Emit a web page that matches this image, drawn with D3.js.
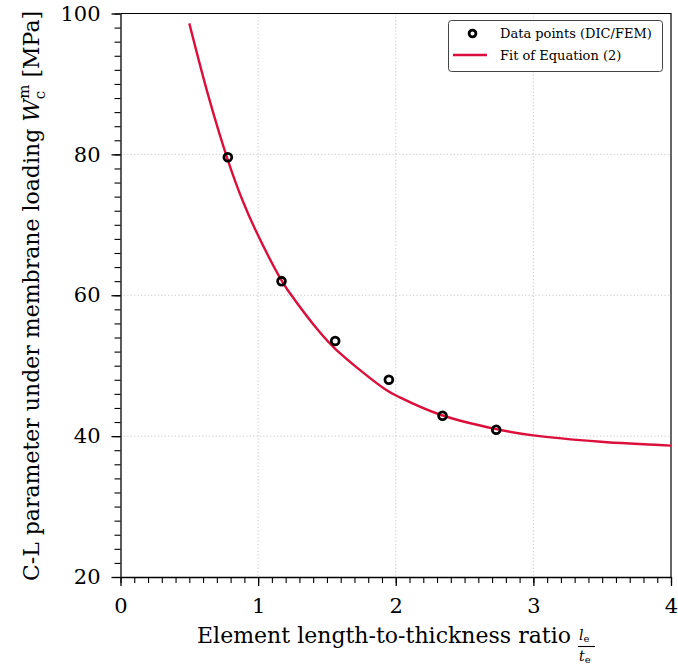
<!DOCTYPE html>
<html>
<head>
<meta charset="utf-8">
<script src="https://cdn.jsdelivr.net/npm/d3@7"></script>
<style>
  html, body { margin: 0; padding: 0; background: #fff; }
  svg { display: block; }
  text { font-family: "DejaVu Serif", serif; fill: #000; }
</style>
</head>
<body>
<svg id="chart" width="678" height="670"></svg>
<script>
// Measured points (DIC/FEM)
const pointX = [0.78, 1.17, 1.56, 1.95, 2.34, 2.73];
const pointY = [79.6, 62.0, 53.5, 48.0, 42.9, 40.9];

// Fitted curve, sampled along its length
const fitX = [0.50, 0.64, 0.78, 0.89, 0.98, 1.17, 1.22, 1.45, 1.56, 1.92, 2.03, 2.33, 2.73, 3.00, 3.49, 4.00];
const fitY = [98.6, 88.2, 79.2, 73.3, 69.3, 62.1, 60.6, 54.7, 52.4, 46.7, 45.5, 43.0, 41.0, 40.1, 39.2, 38.65];

// Axis ticks
const xTicks = [0, 1, 2, 3, 4];
const yTicks = [20, 40, 60, 80, 100];
const xMinor = d3.range(0, 4.0001, 0.1);
const yMinor = d3.range(20, 100.0001, 2);

const legendLabels = ["Data points (DIC/FEM)", "Fit of Equation (2)"];

const svg = d3.select("#chart");
const L = 120.5, R = 671, T = 13.5, B = 577;
const x = d3.scaleLinear().domain([0, 4]).range([L, R]);
const y = d3.scaleLinear().domain([20, 100]).range([B, T]);
const red = "#dc0f3c";

// grid
const grid = svg.append("g").attr("stroke", "#c8c8c8").attr("stroke-width", 1)
  .attr("stroke-dasharray", "1.2,2.2");
grid.selectAll(".gx").data(xTicks.slice(1, -1)).join("line")
  .attr("x1", d => x(d)).attr("x2", d => x(d)).attr("y1", T).attr("y2", B);
grid.selectAll(".gy").data(yTicks.slice(1, -1)).join("line")
  .attr("y1", d => y(d)).attr("y2", d => y(d)).attr("x1", L).attr("x2", R);

// frame top/right
svg.append("path").attr("d", `M${L},${T}H${R}V${B}`).attr("fill", "none")
  .attr("stroke", "#000").attr("stroke-width", 1.2);

// minor ticks
svg.append("g").attr("transform", `translate(0,${B})`)
  .call(d3.axisBottom(x).tickValues(xMinor).tickSize(6).tickFormat(""))
  .call(g => g.select(".domain").remove())
  .selectAll("line").attr("stroke-width", 1.1);
svg.append("g").attr("transform", `translate(${L},0)`)
  .call(d3.axisLeft(y).tickValues(yMinor).tickSize(6).tickFormat(""))
  .call(g => g.select(".domain").remove())
  .selectAll("line").attr("stroke-width", 1.1);

// major axes
const xAxis = svg.append("g").attr("transform", `translate(0,${B})`)
  .call(d3.axisBottom(x).tickValues(xTicks).tickSize(9).tickPadding(12).tickSizeOuter(0).tickFormat(d3.format("d")));
const yAxis = svg.append("g").attr("transform", `translate(${L},0)`)
  .call(d3.axisLeft(y).tickValues(yTicks).tickSize(9).tickPadding(11).tickSizeOuter(0).tickFormat(d3.format("d")));
[xAxis, yAxis].forEach(a => {
  a.selectAll("text").style("font-family", "DejaVu Serif").style("font-size", "21px").attr("fill", "#000");
  a.selectAll("line").attr("stroke-width", 1.3);
  a.select(".domain").attr("stroke-width", 1.3);
});

// clip
svg.append("clipPath").attr("id", "plotclip").append("rect")
  .attr("x", L).attr("y", T).attr("width", R - L).attr("height", B - T);

// fit curve
const fitData = fitX.map((d, i) => [d, fitY[i]]);
svg.append("path").datum(fitData)
  .attr("clip-path", "url(#plotclip)")
  .attr("fill", "none").attr("stroke", red).attr("stroke-width", 2.4)
  .attr("d", d3.line().x(d => x(d[0])).y(d => y(d[1])).curve(d3.curveCatmullRom.alpha(0.5)));

// data points
svg.append("g").selectAll("circle").data(pointX.map((d, i) => [d, pointY[i]])).join("circle")
  .attr("cx", d => x(d[0])).attr("cy", d => y(d[1])).attr("r", 3.9)
  .attr("fill", "none").attr("stroke", "#000").attr("stroke-width", 2.8);

// legend
const lg = svg.append("g");
lg.append("rect").attr("x", 448.5).attr("y", 20.5).attr("width", 214).attr("height", 51)
  .attr("rx", 3).attr("fill", "#fff").attr("stroke", "#444").attr("stroke-width", 1);
lg.append("circle").attr("cx", 472.5).attr("cy", 33.5).attr("r", 3.4)
  .attr("fill", "none").attr("stroke", "#000").attr("stroke-width", 2.8);
lg.append("line").attr("x1", 453).attr("x2", 487).attr("y1", 55).attr("y2", 55)
  .attr("stroke", red).attr("stroke-width", 2.4);
lg.selectAll("text").data(legendLabels).join("text")
  .attr("x", 500).attr("y", (d, i) => 38 + i * 22)
  .style("font-size", "13px").text(d => d);

// x-axis title with fraction l_e / t_e
const xt = svg.append("g");
xt.append("text").attr("x", 197).attr("y", 643).attr("textLength", 374).style("font-size", "22px")
  .text("Element length-to-thickness ratio");
const fx = 579;
xt.append("text").attr("x", fx).attr("y", 640).style("font-size", "14px").style("font-style", "italic").text("l")
  .append("tspan").attr("dy", 2).style("font-size", "10px").style("font-style", "normal").text("e");
xt.append("line").attr("x1", fx - 1).attr("x2", fx + 16).attr("y1", 646.5).attr("y2", 646.5)
  .attr("stroke", "#000").attr("stroke-width", 1.1);
xt.append("text").attr("x", fx).attr("y", 661).style("font-size", "14px").style("font-style", "italic").text("t")
  .append("tspan").attr("dy", 2).style("font-size", "10px").style("font-style", "normal").text("e");

// y-axis title with W_c^m
const yt = svg.append("text").attr("transform", "translate(39,296) rotate(-90)")
  .attr("text-anchor", "middle").style("font-size", "22px");
yt.append("tspan").text("C-L parameter under membrane loading ");
yt.append("tspan").style("font-style", "italic").text("W");
yt.append("tspan").attr("dy", 6).style("font-size", "15px").text("c");
yt.append("tspan").attr("dx", -8).attr("dy", -16).style("font-size", "15px").text("m");
yt.append("tspan").attr("dy", 10).text(" [MPa]");
</script>
</body>
</html>
